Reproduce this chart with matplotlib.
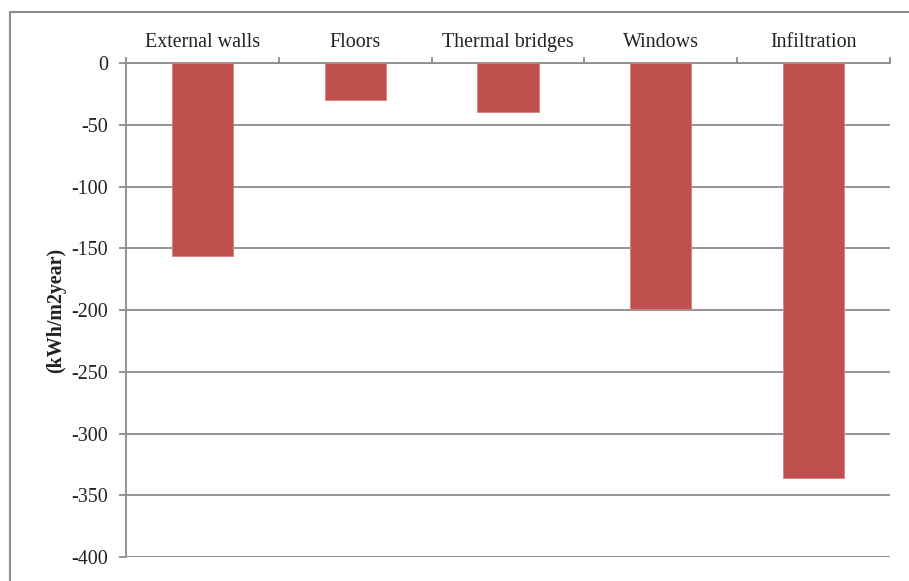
import numpy as np
import matplotlib.pyplot as plt
from matplotlib.patches import Rectangle

categories = ["External walls", "Floors", "Thermal bridges", "Windows", "Infiltration"]
values = [-156, -30, -40, -199, -336]
yticks = [0, -50, -100, -150, -200, -250, -300, -350, -400]

plt.rcParams['font.family'] = ['Liberation Serif', 'DejaVu Serif']

fig = plt.figure(figsize=(9.09, 5.81), dpi=100)
ax = fig.add_axes([126/909, 1-557/581, (890-126)/909, (557-63)/581])

x = np.arange(len(categories))
ax.bar(x, values, width=0.4, color="#C0504D", edgecolor="#D9807D", linewidth=0.6, zorder=3)

ax.set_xlim(-0.5, len(categories)-0.5)
ax.set_ylim(-400, 0)
ax.set_yticks(yticks)
ax.set_yticklabels([str(v) for v in yticks], fontsize=14.4, color="#222222")
ax.yaxis.grid(True, color="#8c8c8c", linewidth=1.3, zorder=0)

ax.xaxis.tick_top()
ax.set_xticks(np.arange(len(categories)+1) - 0.5)
ax.set_xticklabels([])
ax.set_xticks(x, minor=True)
ax.set_xticklabels(categories, minor=True, fontsize=14.4, color="#222222")
ax.tick_params(axis='x', which='major', length=4, color="#8c8c8c", width=1.3)
ax.tick_params(axis='x', which='minor', length=0, pad=8)
ax.tick_params(axis='y', length=5, color="#8c8c8c", width=1.3, pad=8)

for s in ["bottom", "right"]:
    ax.spines[s].set_visible(False)
for s in ["top", "left"]:
    ax.spines[s].set_color("#8c8c8c")
    ax.spines[s].set_linewidth(1.3)

ax.set_ylabel("(kWh/m2year)", fontsize=14.4, fontweight="bold", labelpad=4, color="#222222")

fig.patches.append(Rectangle((10/909, -0.2), 1.2, 1.2 - 12/581, transform=fig.transFigure,
                             fill=False, edgecolor="#8c8c8c", linewidth=1.5))

fig.savefig("out.png", dpi=100)
